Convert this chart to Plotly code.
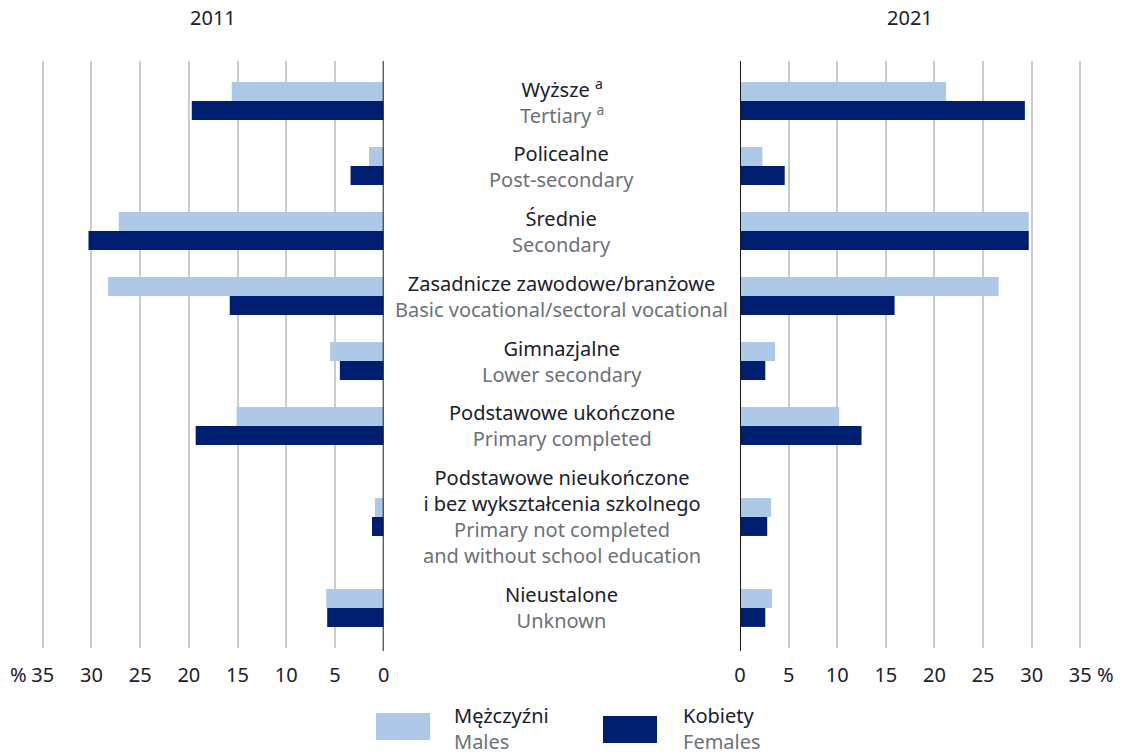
import plotly.graph_objects as go

# Education levels, top to bottom (Polish name lines, English name lines)
labels_pl = [
    ["Wyższe <sup>a</sup>"],
    ["Policealne"],
    ["Średnie"],
    ["Zasadnicze zawodowe/branżowe"],
    ["Gimnazjalne"],
    ["Podstawowe ukończone"],
    ["Podstawowe nieukończone", "i bez wykształcenia szkolnego"],
    ["Nieustalone"],
]
labels_en = [
    ["Tertiary <sup>a</sup>"],
    ["Post-secondary"],
    ["Secondary"],
    ["Basic vocational/sectoral vocational"],
    ["Lower secondary"],
    ["Primary completed"],
    ["Primary not completed", "and without school education"],
    ["Unknown"],
]

# Shares of population (%)
males_2011 = [15.6, 1.5, 27.2, 28.3, 5.5, 15.1, 0.9, 5.9]
females_2011 = [19.7, 3.4, 30.3, 15.8, 4.5, 19.3, 1.2, 5.8]
males_2021 = [21.2, 2.3, 29.7, 26.6, 3.6, 10.2, 3.2, 3.3]
females_2021 = [29.3, 4.6, 29.7, 15.9, 2.6, 12.5, 2.8, 2.6]

tick_values = [0, 5, 10, 15, 20, 25, 30, 35]
years = ["2011", "2021"]

LIGHT = "#aec8e8"
DARK = "#001e6f"
TEXT = "#1a202c"
GREY = "#6c7179"
GRID = "#cbcbcb"
FONT = "Noto Sans"
FS = 20

W, H = 1125, 752

# Row slots sized by the number of label lines
pad = 0.29
centers = []
cursor = 0.0
for pl, en in zip(labels_pl, labels_en):
    n = len(pl) + len(en)
    slot = n + 0.5
    centers.append(cursor + slot / 2)
    cursor += slot
y_range = [cursor + pad, -pad]
bar_w = 0.73

def px_x(p):
    return p / W

def px_y(p):
    return 1 - p / H

# Panel extents: value range slightly beyond 35 so the outer gridline stays visible
x_max = 35.2
left_zero, left_unit = 383.7, 341.0 / 35
right_zero, right_unit = 740.0, 340.3 / 35
left_dom = [px_x(left_zero - x_max * left_unit), px_x(left_zero)]
right_dom = [px_x(right_zero), px_x(right_zero + x_max * right_unit)]
y_dom = [px_y(648), px_y(61)]

fig = go.Figure()

panels = [
    ("x", males_2011, females_2011),
    ("x2", males_2021, females_2021),
]
for xa, m, f in panels:
    fig.add_trace(go.Bar(
        x=m, y=centers, orientation="h", width=bar_w, offset=-bar_w,
        marker=dict(color=LIGHT, line=dict(width=0)),
        xaxis=xa, yaxis="y", showlegend=False, hoverinfo="x",
    ))
    fig.add_trace(go.Bar(
        x=f, y=centers, orientation="h", width=bar_w, offset=0,
        marker=dict(color=DARK, line=dict(width=0)),
        xaxis=xa, yaxis="y", showlegend=False, hoverinfo="x",
    ))

axis_common = dict(
    tickvals=tick_values,
    ticktext=[str(v) for v in tick_values],
    showgrid=True, gridcolor=GRID, gridwidth=2,
    zeroline=False, showline=False, ticks="",
    tickfont=dict(family=FONT, size=FS, color=TEXT),
    ticklabelstandoff=13,
    automargin=False,
    fixedrange=True,
)

fig.update_layout(
    width=W, height=H,
    margin=dict(l=0, r=0, t=0, b=0),
    paper_bgcolor="white", plot_bgcolor="white",
    barmode="overlay",
    xaxis=dict(domain=left_dom, range=[x_max, 0], anchor="y", **axis_common),
    xaxis2=dict(domain=right_dom, range=[0, x_max], anchor="y", **axis_common),
    yaxis=dict(domain=y_dom, range=y_range, showgrid=False, zeroline=False,
               showticklabels=False, ticks="", showline=False,
               automargin=False, fixedrange=True),
    font=dict(family=FONT, size=FS, color=TEXT),
)

# Zero lines of both panels
for xa in ("x", "x2"):
    fig.add_shape(type="line", xref=xa, yref="paper", x0=0, x1=0,
                  y0=px_y(651), y1=px_y(61),
                  line=dict(color="#1a1a1a", width=2), layer="above")

annotations = []

# Year headers
for year, zero, unit, sign in zip(years, (left_zero, right_zero),
                                  (left_unit, right_unit), (-1, 1)):
    annotations.append(dict(
        text=year, xref="paper", yref="paper",
        x=px_x(zero + sign * 17.5 * unit), y=px_y(18),
        xanchor="center", yanchor="middle", showarrow=False,
        font=dict(family=FONT, size=FS, color=TEXT),
    ))

# Percent signs next to the outer tick labels
for px in (18.5, 1105):
    annotations.append(dict(text="%", xref="paper", yref="paper", x=px_x(px), y=px_y(674),
                            xanchor="center", yanchor="middle", showarrow=False,
                            font=dict(family=FONT, size=FS, color=TEXT)))

# Category labels between the panels
mid_x = px_x((left_zero + right_zero) / 2)
for c, pl, en in zip(centers, labels_pl, labels_en):
    lines = list(pl) + [f"<span style='color:{GREY}'>{t}</span>" for t in en]
    annotations.append(dict(
        text="<br>".join(lines), xref="paper", yref="y",
        x=mid_x, y=c, xanchor="center", yanchor="middle",
        align="center", showarrow=False,
        font=dict(family=FONT, size=FS, color=TEXT),
    ))

# Legend
legend_items = [
    (LIGHT, "Mężczyźni", "Males", (376, 430, 713, 740), 454),
    (DARK, "Kobiety", "Females", (603, 657, 716, 743), 683),
]
for color, pl, en, (x0, x1, y0, y1), tx in legend_items:
    fig.add_shape(type="rect", xref="paper", yref="paper",
                  x0=px_x(x0), x1=px_x(x1), y0=px_y(y1), y1=px_y(y0),
                  fillcolor=color, line=dict(width=0))
    annotations.append(dict(
        text=f"{pl}<br><span style='color:{GREY}'>{en}</span>",
        xref="paper", yref="paper", x=px_x(tx - 2), y=px_y(728),
        xanchor="left", yanchor="middle", align="left", showarrow=False,
        font=dict(family=FONT, size=FS, color=TEXT),
    ))

fig.update_layout(annotations=annotations)

fig.write_html("out.html")
